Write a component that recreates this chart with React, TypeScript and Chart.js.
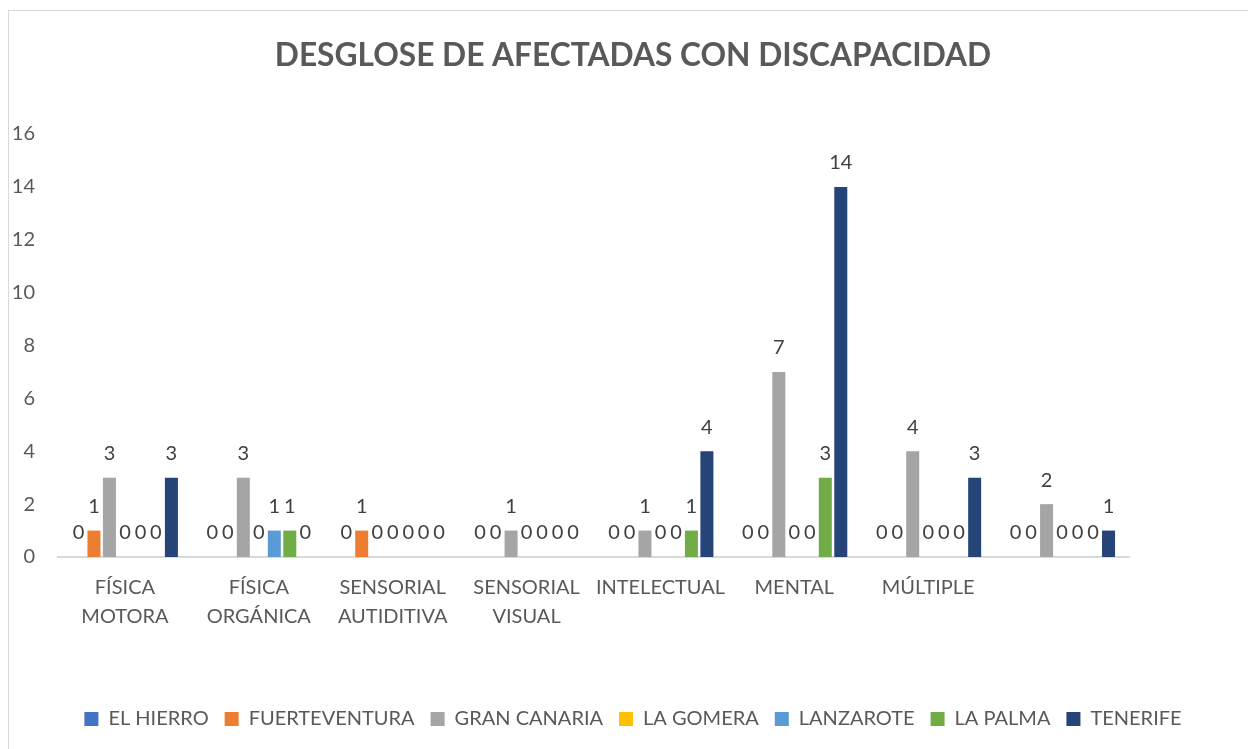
import React, { useEffect, useRef } from "react";
import { Chart, registerables } from "chart.js";

Chart.register(...registerables);

const categories: (string | string[])[] = [
  ["FÍSICA", "MOTORA"],
  ["FÍSICA", "ORGÁNICA"],
  ["SENSORIAL", "AUTIDITIVA"],
  ["SENSORIAL", "VISUAL"],
  "INTELECTUAL",
  "MENTAL",
  "MÚLTIPLE",
  "",
];

const elHierro = [0, 0, 0, 0, 0, 0, 0, 0];
const fuerteventura = [1, 0, 1, 0, 0, 0, 0, 0];
const granCanaria = [3, 3, 0, 1, 1, 7, 4, 2];
const laGomera = [0, 0, 0, 0, 0, 0, 0, 0];
const lanzarote = [0, 1, 0, 0, 0, 0, 0, 0];
const laPalma = [0, 1, 0, 0, 1, 3, 0, 0];
const tenerife = [3, 0, 0, 0, 4, 14, 3, 1];

const seriesNames = ["EL HIERRO", "FUERTEVENTURA", "GRAN CANARIA", "LA GOMERA", "LANZAROTE", "LA PALMA", "TENERIFE"];
const seriesColors = ["#4472C4", "#ED7D31", "#A5A5A5", "#FFC000", "#5B9BD5", "#70AD47", "#264478"];
const seriesValues = [elHierro, fuerteventura, granCanaria, laGomera, lanzarote, laPalma, tenerife];

const yTicks = [0, 2, 4, 6, 8, 10, 12, 14, 16];

const FONT = "Lato, 'Open Sans', sans-serif";

const dataLabelPlugin = {
  id: "dataLabels",
  afterDatasetsDraw(chart: any) {
    const ctx = chart.ctx;
    ctx.save();
    ctx.font = `20px ${FONT}`;
    ctx.fillStyle = "#404040";
    ctx.textAlign = "center";
    ctx.textBaseline = "middle";
    chart.data.datasets.forEach((ds: any, i: number) => {
      const meta = chart.getDatasetMeta(i);
      meta.data.forEach((el: any, j: number) => {
        ctx.fillText(String(ds.data[j]), el.x, el.y - 24);
      });
    });
    ctx.restore();
  },
};

export default function App() {
  const ref = useRef<HTMLCanvasElement>(null);
  useEffect(() => {
    if (!ref.current) return;
    const chart = new Chart(ref.current, {
      type: "bar",
      data: {
        labels: categories,
        datasets: seriesNames.map((name, i) => ({
          label: name,
          data: seriesValues[i],
          backgroundColor: seriesColors[i],
          borderWidth: 0,
          categoryPercentage: 0.81,
          barPercentage: 0.84,
          yAxisID: "y",
        })),
      },
      options: {
        animation: false,
        responsive: false,
        maintainAspectRatio: false,
        layout: { padding: { left: 0, right: 0, top: 0, bottom: 11 } },
        plugins: {
          title: {
            display: true,
            text: "DESGLOSE DE AFECTADAS CON DISCAPACIDAD",
            color: "#595959",
            font: { family: FONT, size: 31.7, weight: "bold" },
            padding: { top: 26, bottom: 59 },
          },
          legend: {
            position: "bottom",
            labels: {
              color: "#595959",
              font: { family: FONT, size: 20 },
              boxWidth: 14,
              boxHeight: 14,
              padding: 16,
            },
          },
          tooltip: { enabled: false },
        },
        scales: {
          x: {
            grid: { display: false, drawTicks: false },
            border: { display: true, color: "#d9d9d9", width: 2 },
            ticks: {
              color: "#595959",
              font: { family: FONT, size: 20, lineHeight: 1.45 },
              padding: 16,
              maxRotation: 0,
              autoSkip: false,
            },
            afterFit: (s: any) => {
              s.height = 136;
            },
          },
          y: {
            min: 0,
            max: 16,
            afterBuildTicks: (s: any) => {
              s.ticks = yTicks.map((v) => ({ value: v }));
            },
            grid: { display: false, drawTicks: false },
            border: { display: false },
            ticks: {
              color: "#595959",
              font: { family: FONT, size: 20 },
              padding: 23,
            },
            afterFit: (s: any) => {
              s.width = 49;
            },
          },
          yRight: {
            position: "right",
            display: true,
            grid: { display: false, drawTicks: false },
            border: { display: false },
            ticks: { display: false },
            afterFit: (s: any) => {
              s.width = 128;
            },
          },
        },
      },
      plugins: [dataLabelPlugin],
    });
    return () => chart.destroy();
  }, []);

  return (
    <div
      style={{
        position: "absolute",
        left: 8,
        top: 10,
        width: 1260,
        height: 760,
        border: "1px solid #d9d9d9",
        background: "#fff",
        overflow: "hidden",
      }}
    >
      <canvas ref={ref} width={1248} height={739} style={{ display: "block" }} />
    </div>
  );
}
